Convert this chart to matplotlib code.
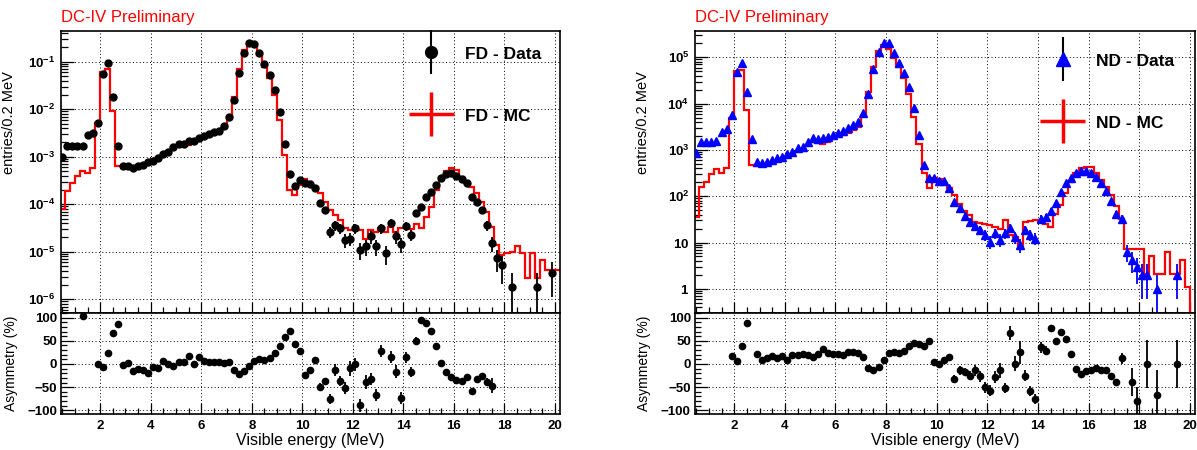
import numpy as np
import matplotlib
matplotlib.use("Agg")
import matplotlib.pyplot as plt
from matplotlib.ticker import MultipleLocator, LogLocator, FuncFormatter, NullFormatter
from matplotlib.legend_handler import HandlerErrorbar

plt.rcParams['font.family'] = ['Liberation Sans', 'DejaVu Sans']
plt.rcParams['mathtext.fontset'] = 'custom'
plt.rcParams['mathtext.rm'] = 'Liberation Sans'
plt.rcParams['mathtext.bf'] = 'Liberation Sans:bold'

nan = np.nan

# 0.2 MeV bins from 0.4 to 20.2 MeV (rows of 10 bins: 0.5-2.3, 2.5-4.3, ...)
edges = np.round(np.linspace(0.4, 20.2, 100), 2)
centers = edges[:-1] + 0.1

########################## FD ##########################
fd_mc = [8e-5, 1.95e-4, 2.8e-4, 4.0e-4, 5.1e-4, 4.5e-4, 5.7e-4, 5.2e-3, 0.062, 0.070,
         9.2e-3, 6.4e-4, 6.4e-4, 6.2e-4, 6.2e-4, 6.6e-4, 7.2e-4, 8.3e-4, 8.8e-4, 9.9e-4,
         1.15e-3, 1.25e-3, 1.6e-3, 1.7e-3, 1.7e-3, 1.75e-3, 2.0e-3, 2.2e-3, 2.6e-3, 2.8e-3,
         3.0e-3, 3.2e-3, 4.0e-3, 6.4e-3, 0.018, 0.071, 0.18, 0.26, 0.21, 0.14,
         0.079, 0.045, 0.020, 5.8e-3, 1.07e-3, 2.0e-4, 1.57e-4, 2.55e-4, 3.35e-4, 3.0e-4,
         2.35e-4, 1.7e-4, 1.14e-4, 7.6e-5, 5.9e-5, 4.7e-5, 3.1e-5, 2.9e-5, 3.4e-5, 2.9e-5,
         1.9e-5, 2.9e-5, 2.65e-5, 3.1e-5, 2.65e-5, 3.4e-5, 2.65e-5, 3.1e-5, 3.1e-5, 2.95e-5,
         3.85e-5, 3.1e-5, 5.5e-5, 8.6e-5, 2.0e-4, 3.8e-4, 5.1e-4, 5.7e-4, 5.25e-4, 3.8e-4,
         2.85e-4, 2.35e-4, 1.7e-4, 1.14e-4, 7.0e-5, 3.4e-5, 1.4e-5, 8.5e-6, 9.3e-6, 1.0e-5,
         1.3e-5, 9.5e-6, 2.8e-6, 9.3e-6, 2.8e-6, 6.7e-6, 4.2e-6, 4.2e-6, 4.2e-6]

fd_data = [1.0e-3, 1.7e-3, 1.7e-3, 1.7e-3, 1.7e-3, 2.9e-3, 3.2e-3, 5.2e-3, 0.055, 0.093,
           0.018, 1.7e-3, 6.4e-4, 6.4e-4, 5.8e-4, 6.4e-4, 6.7e-4, 7.6e-4, 8.0e-4, 9.5e-4,
           1.17e-3, 1.25e-3, 1.6e-3, 1.9e-3, 1.85e-3, 2.1e-3, 2.1e-3, 2.5e-3, 2.8e-3, 3.0e-3,
           3.4e-3, 3.5e-3, 4.5e-3, 6.8e-3, 0.016, 0.059, 0.15, 0.245, 0.24, 0.15,
           0.088, 0.052, 0.026, 8.7e-3, 1.9e-3, 4.4e-4, 2.4e-4, 3.2e-4, 2.8e-4, 2.7e-4,
           2.2e-4, 1.05e-4, 7.6e-5, 2.6e-5, 3.6e-5, 3.1e-5, 1.8e-5, 1.9e-5, 3.1e-5, 1.1e-5,
           1.3e-5, 2.1e-5, 1.3e-5, 3.1e-5, 9.3e-6, 4.1e-5, 2.1e-5, 1.45e-5, 3.5e-5, 2.3e-5,
           6.4e-5, 8.9e-5, 1.4e-4, 1.8e-4, 2.6e-4, 3.5e-4, 4.4e-4, 4.5e-4, 4.0e-4, 3.4e-4,
           2.8e-4, 1.45e-4, 1.1e-4, 7.4e-5, 3.6e-5, 1.5e-5, 7.3e-6, 5.2e-6, nan, 1.8e-6,
           nan, nan, nan, nan, 1.8e-6, nan, nan, 3.6e-6, nan]

fd_err = [0] * 40 + \
         [0, 0, 0, 0, 0, 2.8e-5, 2.1e-5, 2.4e-5, 2.2e-5, 2.2e-5,
          2.0e-5, 1.4e-5, 1.2e-5, 6.8e-6, 8.0e-6, 7.5e-6, 5.7e-6, 5.8e-6, 7.5e-6, 4.4e-6,
          4.8e-6, 6.1e-6, 4.8e-6, 7.5e-6, 4.1e-6, 8.6e-6, 6.1e-6, 5.1e-6, 7.9e-6, 6.4e-6,
          1.1e-5, 1.3e-5, 1.6e-5, 1.8e-5, 2.2e-5, 2.5e-5, 2.8e-5, 2.8e-5, 2.7e-5, 2.5e-5,
          2.2e-5, 1.6e-5, 1.4e-5, 1.2e-5, 8.0e-6, 5.2e-6, 3.6e-6, 3.1e-6, 0, 1.8e-6,
          0, 0, 0, 0, 1.8e-6, 0, 0, 2.5e-6, 0]

fd_asym = [nan, nan, nan, nan, 104, nan, nan, 0, -7, 24,
           67, 86, -2, 3, -16, -11, -14, -19, -7, -9,
           6, 1, -4, 4, 5, 18, 0, 15, 7, 4,
           5, 5, 3, 4, -13, -22, -15, -4, 7, 11,
           9, 13, 24, 39, 58, 71, 44, 27, -24, -14,
           9, -49, -37, -75, -14, -37, -52, -9, -1, -89,
           -39, -32, -68, 28, nan, 15, -17, -74, 14, -18,
           49, 95, 89, 72, 39, 3, -18, -28, -35, -37,
           -29, -59, -33, -27, -39, -47, nan, nan, nan, nan,
           nan, nan, nan, nan, nan, nan, nan, nan, nan]

fd_asym_err = [0] * 40 + \
              [2, 2, 2, 2, 3, 4, 5, 5, 4, 4,
               5, 7, 7, 11, 13, 11, 13, 16, 14, 14,
               15, 13, 13, 12, 0, 12, 14, 13, 12, 11,
               9, 7, 7, 6, 5, 3, 3, 3, 3, 3,
               3, 5, 6, 7, 9, 16, 0, 0, 0, 0,
               0, 0, 0, 0, 0, 0, 0, 0, 0]

########################## ND ##########################
nd_mc = [35, 155, 205, 300, 380, 310, 400, 4800, 51000, 53000,
         7300, 470, 450, 480, 485, 505, 575, 585, 700, 750,
         880, 940, 1200, 1480, 1380, 1330, 1500, 1700, 1880, 2150,
         2300, 2700, 3200, 5400, 17500, 62000, 140000, 187000, 155000, 99000,
         62000, 35000, 15800, 5200, 1340, 325, 152, 250, 235, 196,
         150, 106, 68, 47, 40, 28, 26, 25, 24, 22,
         20, 30, 14.5, 13.3, 7.4, 28, 29, 30, 28, 25,
         22, 42, 64, 115, 205, 320, 400, 433, 420, 311,
         224, 160, 106, 60, 33, 7.4, 7.4, 7.4, 7.4, 2.1,
         5.2, 2.1, 2.1, 6.1, 2.1, 2.1, 4.2, 1.1, 0.01]

nd_data = [870, 1500, 1450, 1500, 1580, 2470, 2900, 5700, 49000, 77000,
           18100, 1690, 547, 530, 550, 600, 655, 690, 815, 915,
           1080, 1170, 1500, 1770, 1690, 1830, 1920, 2100, 2350, 2600,
           2920, 3440, 4070, 6370, 16100, 55000, 132000, 207000, 200000, 126000,
           77000, 45000, 23200, 8200, 2100, 470, 243, 243, 216, 216,
           147, 76, 57, 37, 28, 22.6, 18.5, 14.5, 10.4, 15.7,
           11.6, 15.7, 21, 12.9, 8.8, 18.5, 14.5, 12.2, 33, 35,
           48, 70, 125, 189, 250, 322, 355, 355, 322, 263,
           195, 131, 78, 42, 33, 6.3, 4.2, 3.0, 2.0, 2.0,
           nan, 1.0, nan, nan, nan, 2.0, nan, nan, nan]

nd_err = [0] * 40 + \
         [0, 0, 0, 0, 0, 22, 16, 16, 15, 15,
          12, 8.7, 7.5, 6.1, 5.3, 4.8, 4.3, 3.8, 3.2, 4.0,
          3.4, 4.0, 4.6, 3.6, 3.0, 4.3, 3.8, 3.5, 5.7, 5.9,
          6.9, 8.4, 11, 14, 16, 18, 19, 19, 18, 16,
          14, 11, 8.8, 6.5, 5.7, 2.5, 2.0, 1.7, 1.4, 1.4,
          0, 1.0, 0, 0, 0, 1.4, 0, 0, 0]

nd_asym = [nan, nan, nan, nan, nan, nan, nan, 18, 6, 38,
           88, nan, 21, 9, 13, 17, 12, 17, 9, 20,
           20, 22, 20, 16, 22, 33, 24, 21, 22, 19,
           25, 25, 24, 14, -9, -14, -6, 9, 23, 26,
           23, 27, 39, 45, 44, 38, 49, 4, -1, 9,
           15, -32, -14, -18, -25, -14, -27, -50, -58, -28,
           -14, -52, 67, 1, 25, -25, -59, -75, 36, 29,
           77, 49, 70, 53, 22, -10, -21, -16, -14, -9,
           -14, -12, -25, -39, 12, nan, -39, -80, nan, 0,
           nan, -67, nan, nan, nan, 0, nan, nan, nan]

nd_asym_err = [0] * 40 + \
              [0, 0, 0, 0, 0, 2, 3, 3, 3, 4,
               5, 8, 9, 9, 10, 12, 12, 12, 12, 12,
               17, 10, 16, 16, 25, 11, 11, 11, 12, 10,
               7, 8, 6, 5, 3, 2, 2, 2, 2, 2,
               3, 3, 5, 7, 12, 0, 31, 30, 0, 51,
               0, 55, 0, 0, 0, 51, 0, 0, 0]


def log_label(v, pos):
    e = int(round(np.log10(v)))
    if e == 0:
        return r'$\mathbf{1}$'
    if e == 1:
        return r'$\mathbf{10}$'
    return r'$\mathbf{10^{%d}}$' % e


def style_axis(ax):
    for s in ax.spines.values():
        s.set_linewidth(1.2)
    ax.tick_params(which='both', direction='in', top=False, right=False,
                   labelsize=9.5, width=0.9)
    ax.set_axisbelow(True)
    ax.grid(True, which='major', color='black', ls=(0, (1, 2.5)), lw=0.7)


def panel(x0, w, mc, data, err, asym, asym_err, ylim, marker, mcolor, ms, tag, leg_anchor):
    top = fig.add_axes([x0, 0.3044, w, 0.6267])
    bot = fig.add_axes([x0, 0.08, w, 0.2244], sharex=top)

    top.set_yscale('log')
    top.stairs(mc, edges, color='red', lw=1.6, baseline=None, zorder=2)
    top.errorbar(centers, data, yerr=err, fmt=marker, color=mcolor, ecolor=mcolor,
                 ms=ms, elinewidth=1.3, capsize=0, zorder=3)
    top.set_xlim(0.45, 20.2)
    top.set_ylim(*ylim)
    style_axis(top)
    top.xaxis.set_major_locator(MultipleLocator(2))
    top.xaxis.set_minor_locator(MultipleLocator(0.5))
    top.yaxis.set_major_locator(LogLocator(base=10, numticks=20))
    top.yaxis.set_minor_locator(LogLocator(base=10, subs=np.arange(2, 10), numticks=20))
    top.yaxis.set_major_formatter(FuncFormatter(log_label))
    top.yaxis.set_minor_formatter(NullFormatter())
    top.tick_params(axis='y', which='major', length=9, pad=4)
    top.tick_params(axis='y', which='minor', length=5)
    top.tick_params(axis='x', which='major', length=8, labelbottom=False)
    top.tick_params(axis='x', which='minor', length=4)
    top.set_ylabel('entries/0.2 MeV', fontsize=10.5)
    top.yaxis.set_label_coords(-0.09, 0.677)
    top.text(0.0, 1.02, 'DC-IV Preliminary', transform=top.transAxes, color='red',
             fontsize=12, ha='left', va='bottom')

    # legend
    h_data = top.errorbar([], [], yerr=[], fmt=marker, color=mcolor, ecolor='black',
                          ms=ms, elinewidth=1.5)
    h_mc = top.errorbar([], [], xerr=[], yerr=[], fmt='none', ecolor='red', elinewidth=2.5)
    top.legend([h_data, h_mc], [tag + ' - Data', tag + ' - MC'],
               handler_map={type(h_data): HandlerErrorbar(xerr_size=1.3, yerr_size=1.25,
                                                          numpoints=1)},
               loc='upper left', bbox_to_anchor=leg_anchor, frameon=False,
               borderpad=0, borderaxespad=0, handlelength=2.6, handletextpad=0.65,
               labelspacing=2.6, handleheight=1.0, markerscale=1.7,
               prop={'weight': 'bold', 'size': 12.5})

    bot.errorbar(centers, asym, yerr=asym_err, fmt='o', color='black', ms=4.5,
                 elinewidth=1.3, capsize=0)
    bot.set_ylim(-108, 110)
    style_axis(bot)
    bot.yaxis.set_major_locator(MultipleLocator(50))
    bot.yaxis.set_minor_locator(MultipleLocator(10))
    bot.tick_params(axis='y', which='major', length=9, pad=3)
    bot.tick_params(axis='y', which='minor', length=4)
    bot.tick_params(axis='x', which='major', length=8, pad=4)
    bot.tick_params(axis='x', which='minor', length=4)
    for lab in bot.get_xticklabels() + bot.get_yticklabels():
        lab.set_fontweight('bold')
    bot.set_ylabel('Asymmetry (%)', fontsize=10)
    bot.yaxis.set_label_coords(-0.087, 0.5)
    bot.set_xlabel('Visible energy (MeV)', fontsize=11.5, labelpad=1)
    return top, bot


fig = plt.figure(figsize=(11.97, 4.5), dpi=100)

panel(0.051, 0.4169, fd_mc, fd_data, fd_err, fd_asym, fd_asym_err,
      (5.15e-7, 0.443), 'o', 'black', 5, 'FD', (0.697, 0.95))
panel(0.5806, 0.4177, nd_mc, nd_data, nd_err, nd_asym, nd_asym_err,
      (0.30, 3.7e5), '^', 'blue', 6, 'ND', (0.69, 0.925))

fig.savefig('out.png', dpi=100)
